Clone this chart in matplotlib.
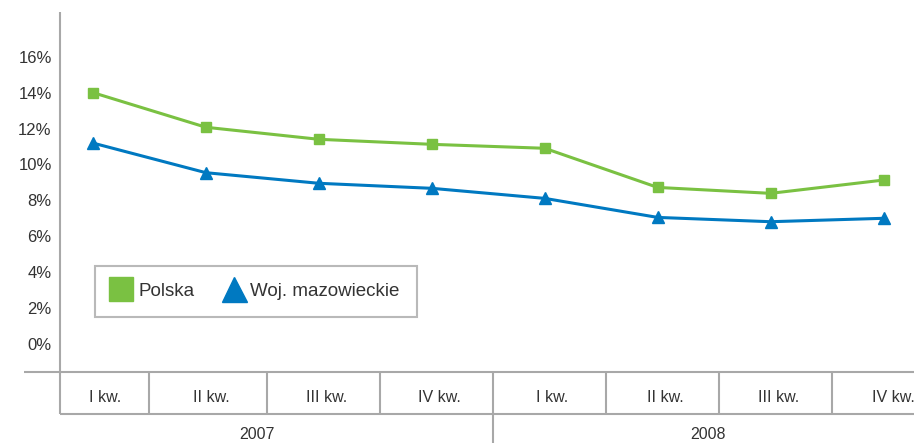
import numpy as np
import matplotlib
matplotlib.use("Agg")
from matplotlib import pyplot as plt
from matplotlib.lines import Line2D
import matplotlib.transforms as mtrans

plt.rcParams['font.family'] = ['Liberation Sans', 'DejaVu Sans']

# data
quarters = ["I kw.", "II kw.", "III kw.", "IV kw.", "I kw.", "II kw.", "III kw.", "IV kw."]
years = ["2007", "2008"]
polska = [14.0, 12.07, 11.40, 11.12, 10.90, 8.72, 8.39, 9.13]
mazowieckie = [11.19, 9.54, 8.95, 8.67, 8.11, 7.05, 6.81, 7.0]
yticks = [0, 2, 4, 6, 8, 10, 12, 14, 16]

GREEN = "#7AC142"
BLUE = "#0079C1"
GRAY = "#A8A8A8"
TEXT = "#333333"

W, H = 914, 443
fig = plt.figure(figsize=(W / 100, H / 100), dpi=100)

# axes in pixel terms: x 60..914, y 12..372
ax = fig.add_axes([60 / W, (H - 372) / H, (W - 60) / W, 360 / H])

x = np.arange(len(quarters))
ax.plot(x, polska, color=GREEN, lw=2.2, marker="s", ms=7.5, mec=GREEN, mfc=GREEN, zorder=3)
ax.plot(x, mazowieckie, color=BLUE, lw=2.2, marker="^", ms=8, mec=BLUE, mfc=BLUE, zorder=3)

ax.set_xlim(-0.292, 7.27)
ax.set_ylim(-1.56, 18.49)

for s in ax.spines.values():
    s.set_visible(False)
ax.set_xticks([])
ax.set_yticks(yticks)
ax.set_yticklabels([f"{v}%" for v in yticks], fontsize=12, color=TEXT)
ax.tick_params(axis="y", length=0, pad=6)

# axis lines and category table below the plot
tr = mtrans.blended_transform_factory(ax.transData, ax.transAxes)
row_bot = -(414 - 372) / 360
year_bot = -(443 - 372) / 360
lkw = dict(color=GRAY, lw=1.5, clip_on=False, solid_capstyle="butt")

ax.plot([-(60 - 24) / 854, 1], [0, 0], transform=ax.transAxes, **lkw)
ax.plot([0, 0], [1, row_bot], transform=ax.transAxes, **lkw)
ax.plot([0, 1], [row_bot, row_bot], transform=ax.transAxes, **lkw)
dividers = np.arange(len(quarters) - 1) + 0.5
dividers[1:] += 0.04
for i, d in enumerate(dividers):
    bot = year_bot if i == 3 else row_bot
    ax.plot([d, d], [0, bot], transform=tr, **lkw)

bounds = [-0.292] + list(dividers) + [7.58]
for i, q in enumerate(quarters):
    cx = (bounds[i] + bounds[i + 1]) / 2
    if i > 0:
        cx += 0.03
    ax.text(cx, -(397 - 372) / 360, q, transform=tr, ha="center", va="center",
            fontsize=11.5, color=TEXT)

for j, yr in enumerate(years):
    ax.text(1.45 + 4 * j, -(442 - 372) / 360, yr, transform=tr, ha="center", va="bottom",
            fontsize=11.5, color=TEXT)

# legend
handles = [
    Line2D([], [], ls="none", marker="s", ms=17, color=GREEN, label="Polska"),
    Line2D([], [], ls="none", marker="^", ms=18, color=BLUE, label="Woj. mazowieckie"),
]
leg = fig.legend(handles=handles, loc="upper left", ncol=2,
                 bbox_to_anchor=(95 / W, (H - 266) / H),
                 frameon=True, fancybox=False, fontsize=13.5,
                 handlelength=1.0, handletextpad=0.4, columnspacing=1.6,
                 borderpad=0.9, borderaxespad=0, labelcolor=TEXT)
leg.get_frame().set_edgecolor(GRAY)
leg.get_frame().set_linewidth(1.5)

fig.savefig("out.png", dpi=100)
